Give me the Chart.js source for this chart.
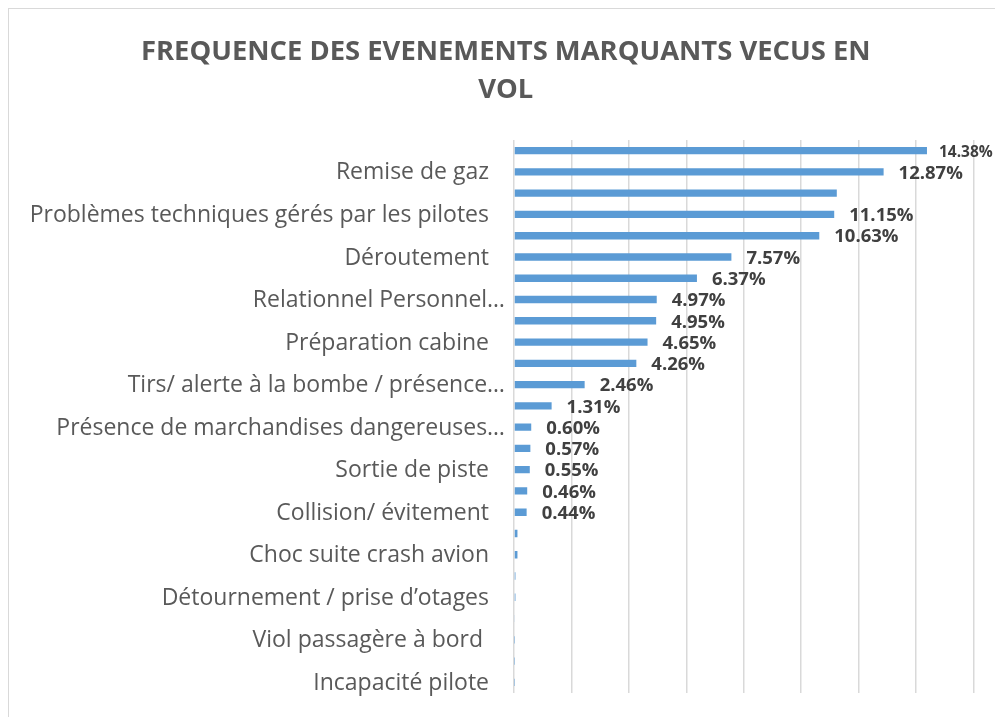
<!DOCTYPE html>
<html lang="fr">
<head>
<meta charset="utf-8">
<title>Fréquence des événements marquants vécus en vol</title>
<script src="https://cdn.jsdelivr.net/npm/chart.js@4.4.1/dist/chart.umd.min.js"></script>
<style>
  html, body { margin: 0; padding: 0; background: #ffffff; overflow: hidden; }
  #frame { position: absolute; left: 8px; top: 8px; width: 1000px; height: 720px;
           border: 1px solid #d9d9d9; box-sizing: border-box; }
  #wrap { position: absolute; left: 0; top: 0; width: 995px; height: 717px; }
</style>
</head>
<body>
<div id="frame"></div>
<div id="wrap"><canvas id="chart" width="995" height="717"></canvas></div>
<script>
// Categories, top to bottom (only every other name is printed on the axis)
const categories = [
  '', 'Remise de gaz', '', 'Problèmes techniques gérés par les pilotes', '',
  'Déroutement', '', 'Relationnel Personnel…', '', 'Préparation cabine', '',
  'Tirs/ alerte à la bombe / présence…', '', 'Présence de marchandises dangereuses…', '',
  'Sortie de piste', '', 'Collision/ évitement', '', 'Choc suite crash avion', '',
  'Détournement / prise d\u2019otages', '', 'Viol passagère à bord ', '', 'Incapacité pilote'
];

// Share of flights (%) for each category
const frequencies = [
  14.38, 12.87, 11.24, 11.15, 10.63, 7.57, 6.37, 4.97, 4.95, 4.65, 4.26, 2.46, 1.31,
  0.60, 0.57, 0.55, 0.46, 0.44, 0.12, 0.12, 0.05, 0.05, 0.03, 0.01, 0.01, 0.01
];

// Bars that carry a value label
const labelledBars = [0, 1, 3, 4, 5, 6, 7, 8, 9, 10, 11, 12, 13, 14, 15, 16, 17];

// Horizontal axis ticks (gridlines only, no text)
const axisMax = 16;
const axisStep = 2;

const FONT = '"Open Sans", Lato, sans-serif';

// Category names, right-aligned against the plot
const categoryLabels = {
  id: 'categoryLabels',
  afterDraw(chart) {
    const { ctx, chartArea, scales } = chart;
    ctx.save();
    ctx.font = '23px ' + FONT;
    ctx.fillStyle = '#595959';
    ctx.textAlign = 'right';
    ctx.textBaseline = 'middle';
    categories.forEach((name, i) => {
      if (!name) return;
      const y = scales.y.getPixelForValue(i);
      const x = chartArea.left - (name.endsWith('…') ? 9 : 25);
      ctx.fillText(name, x, y + 1);
    });
    ctx.restore();
  }
};

// Percentage labels at the end of the bars
const valueLabels = {
  id: 'valueLabels',
  afterDatasetsDraw(chart) {
    const { ctx } = chart;
    const meta = chart.getDatasetMeta(0);
    ctx.save();
    ctx.fillStyle = '#404040';
    ctx.textAlign = 'left';
    ctx.textBaseline = 'middle';
    labelledBars.forEach(i => {
      const bar = meta.data[i];
      const size = i === 0 ? 15.5 : 18.5;
      ctx.font = 'bold ' + size + 'px ' + FONT;
      const text = frequencies[i].toFixed(2) + '%';
      ctx.fillText(text, bar.x + (i === 0 ? 12 : 15), bar.y + 1.5);
    });
    ctx.restore();
  }
};

new Chart(document.getElementById('chart'), {
  type: 'bar',
  data: {
    labels: categories,
    datasets: [{
      data: frequencies,
      backgroundColor: '#5b9bd5',
      borderWidth: 0,
      barPercentage: 0.345,
      categoryPercentage: 1.0
    }]
  },
  plugins: [categoryLabels, valueLabels],
  options: {
    indexAxis: 'y',
    responsive: false,
    animation: false,
    events: [],
    layout: { padding: { left: 38, right: 21.5, top: 0, bottom: 24 } },
    plugins: {
      legend: { display: false },
      tooltip: { enabled: false },
      title: {
        display: true,
        text: ['FREQUENCE DES EVENEMENTS MARQUANTS VECUS EN', 'VOL'],
        color: '#595959',
        font: { family: FONT, size: 27.4, weight: 'bold', lineHeight: 1.387 },
        padding: { top: 33, bottom: 31 }
      }
    },
    scales: {
      x: {
        min: 0,
        max: axisMax,
        ticks: { display: false, stepSize: axisStep },
        grid: { color: '#d9d9d9', lineWidth: 1.5, drawTicks: false },
        border: { display: false }
      },
      y: {
        ticks: { display: false, autoSkip: false },
        grid: { display: false },
        border: { display: false },
        afterFit(scale) { scale.width = 514 - 38; }
      }
    }
  }
});
</script>
</body>
</html>
